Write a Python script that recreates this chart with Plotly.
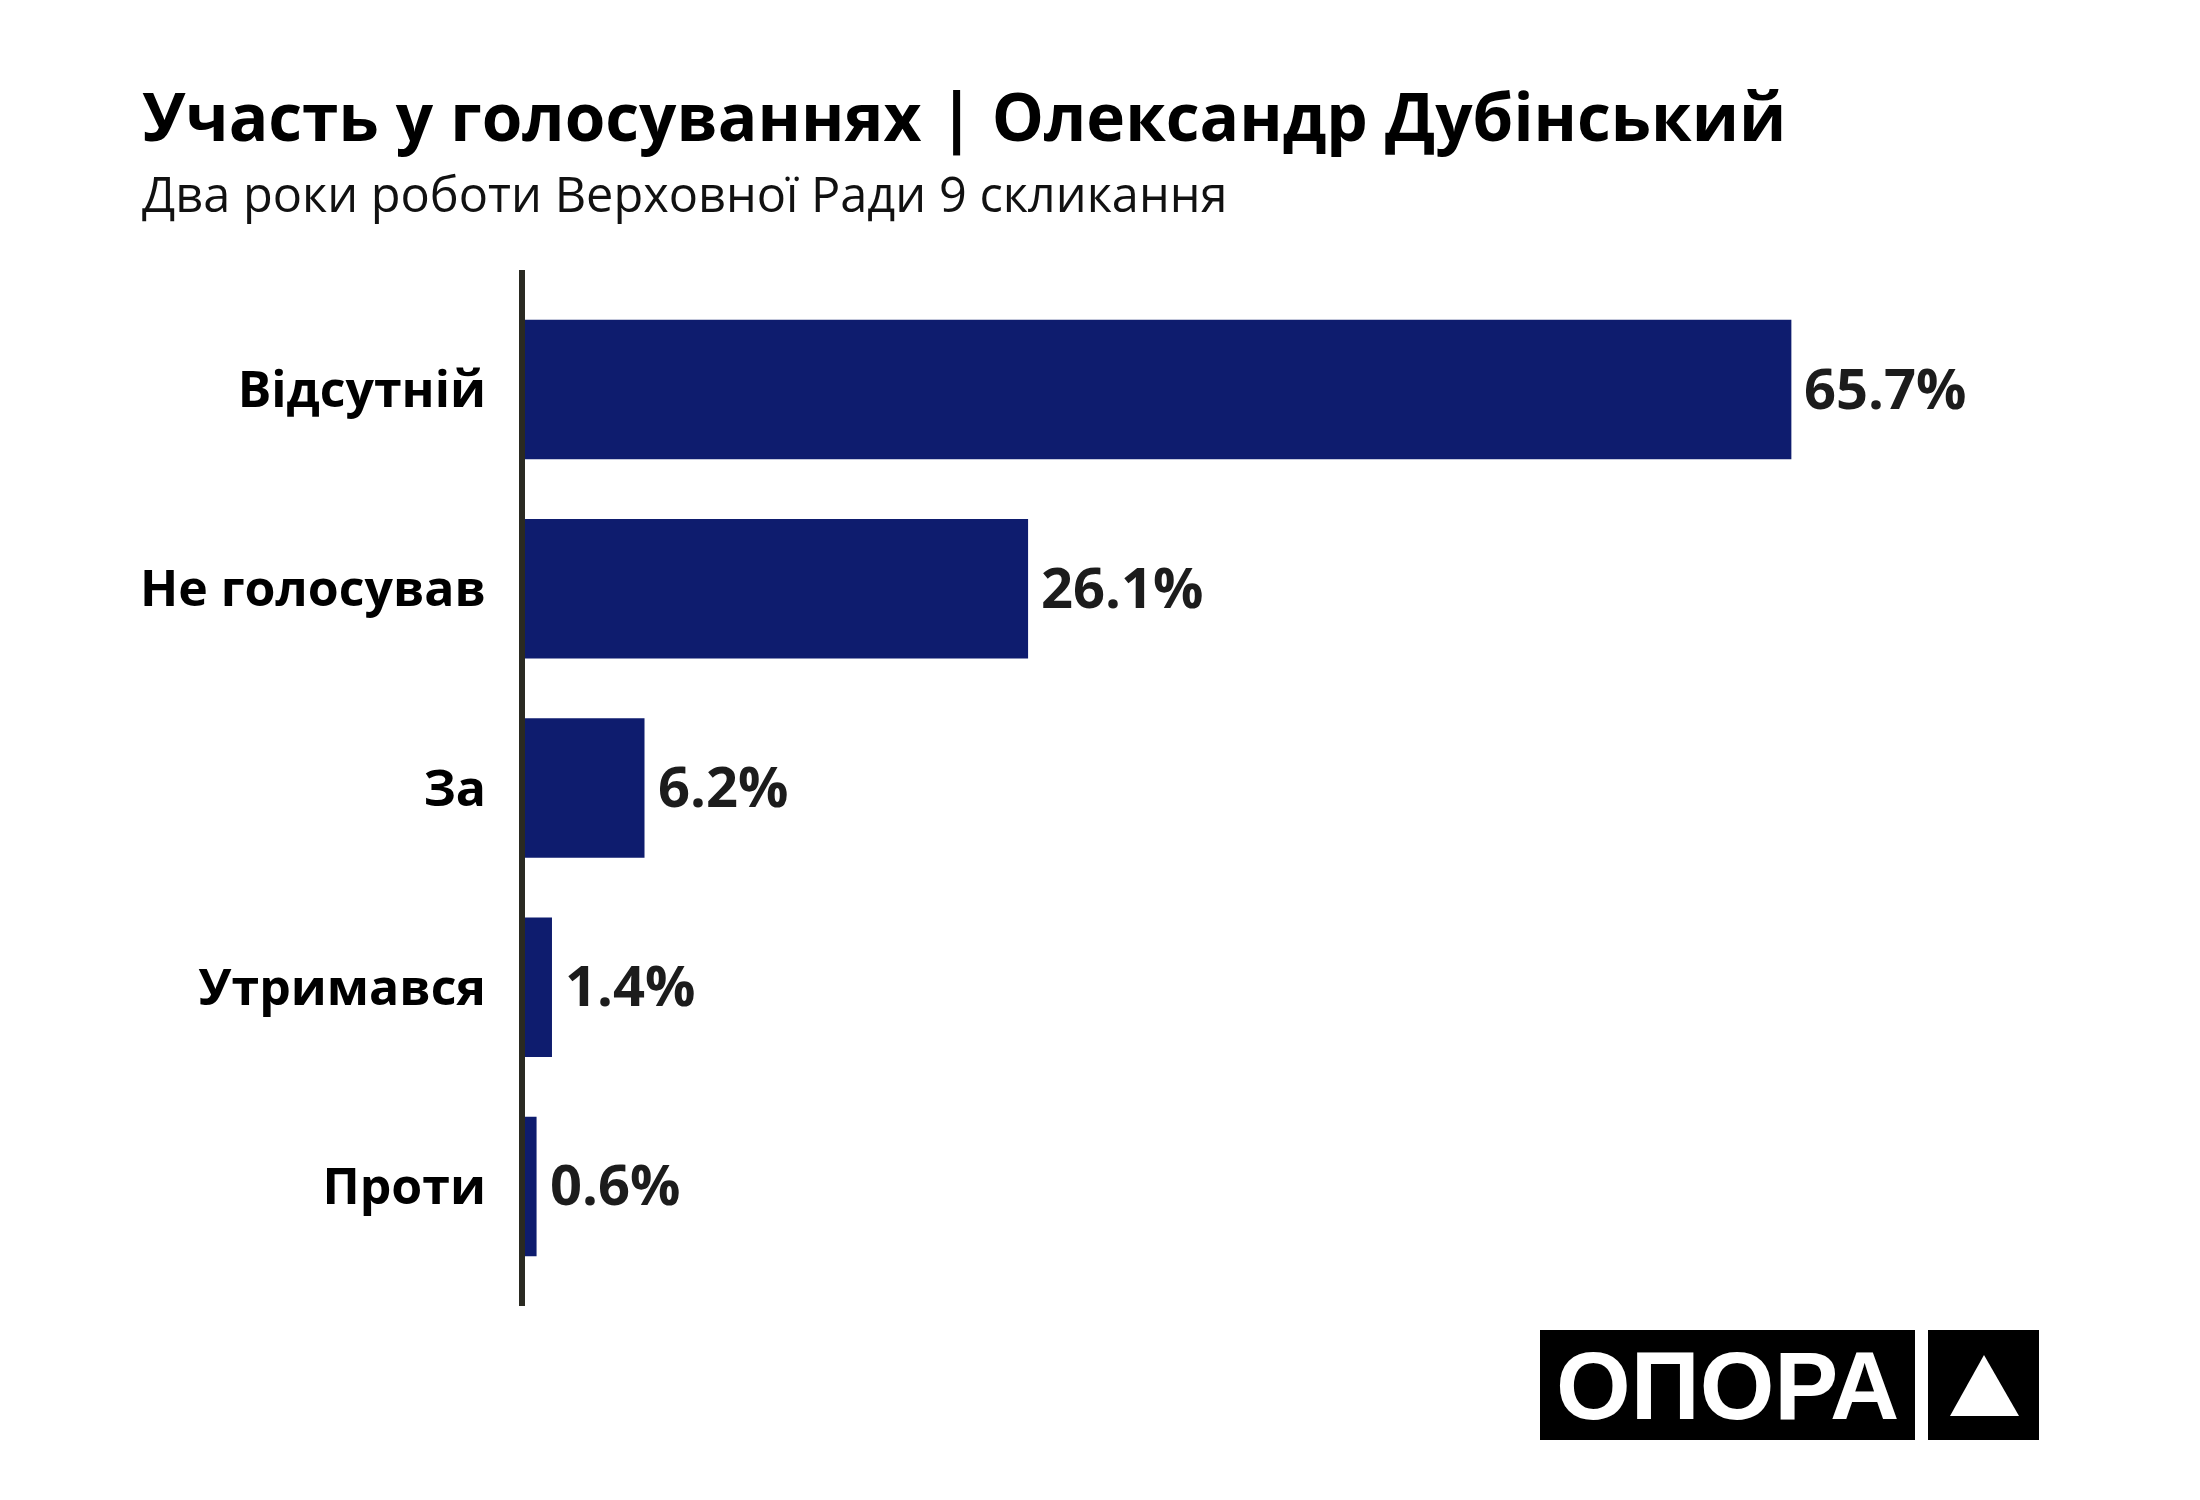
import plotly.graph_objects as go

# data
categories = ['Відсутній', 'Не голосував', 'За', 'Утримався', 'Проти']
shares = [65.7, 26.1, 6.2, 1.4, 0.6]
value_labels = ['65.7%', '26.1%', '6.2%', '1.4%', '0.6%']

title_text = 'Участь у голосуваннях | Олександр Дубінський'
subtitle_text = 'Два роки роботи Верховної Ради 9 скликання'
logo_text = 'ОПОРА'

# canvas / plot area in pixels
W, H = 2200, 1500
L, R, T, B = 517, 141, 262, 202
PW = W - L - R
PH = H - T - B
DX, DY = -8, -9  # correction for the hand-measured positions below

BAR_COLOR = '#0e1c6e'
AXIS_COLOR = '#2a2a22'
FONT = 'Open Sans'


def px(x):
    return (x + DX - L) / PW


def py(y):
    return (H - B - (y + DY)) / PH


def make_chart():
    fig = go.Figure()
    fig.add_trace(go.Bar(
        x=shares, y=categories,
        orientation='h',
        marker=dict(color=BAR_COLOR, line=dict(width=0)),
        hoverinfo='skip'
    ))

    # value labels just right of each bar
    for cat, val, lab in zip(categories, shares, value_labels):
        fig.add_annotation(
            x=val, y=cat, xref='x', yref='y',
            text=lab, showarrow=False,
            xanchor='left', yanchor='middle', xshift=11, yshift=3,
            font=dict(family=FONT, size=56, color='#1c1c1c', weight='bold')
        )

    # title + subtitle
    fig.add_annotation(
        x=px(140), y=py(116), xref='paper', yref='paper',
        text=title_text, showarrow=False,
        xanchor='left', yanchor='middle',
        font=dict(family=FONT, size=65.7, color='#000000', weight='bold')
    )
    fig.add_annotation(
        x=px(140), y=py(194), xref='paper', yref='paper',
        text=subtitle_text, showarrow=False,
        xanchor='left', yanchor='middle',
        font=dict(family=FONT, size=48.7, color='#111111')
    )

    # logo boxes
    fig.add_shape(type='rect', xref='paper', yref='paper',
                  x0=px(1540), x1=px(1915), y0=py(1441), y1=py(1331),
                  fillcolor='black', line=dict(width=0))
    fig.add_shape(type='rect', xref='paper', yref='paper',
                  x0=px(1928), x1=px(2039), y0=py(1441), y1=py(1331),
                  fillcolor='black', line=dict(width=0))
    tri = 'M {},{} L {},{} L {},{} Z'.format(
        px(1950), py(1417), px(2019), py(1417), px(1984), py(1356))
    fig.add_shape(type='path', xref='paper', yref='paper', path=tri,
                  fillcolor='white', line=dict(width=0))
    fig.add_annotation(
        x=px(1727), y=py(1386), xref='paper', yref='paper',
        text=logo_text, showarrow=False,
        xanchor='center', yanchor='middle',
        font=dict(family='Liberation Sans', size=96, color='white', weight='bold')
    )

    fig.update_layout(
        width=W, height=H,
        margin=dict(l=L, r=R, t=T, b=B),
        plot_bgcolor='white', paper_bgcolor='white',
        showlegend=False,
        bargap=0.3,
        xaxis=dict(range=[0, 80], visible=False, fixedrange=True),
        yaxis=dict(
            range=[4.6, -0.6],
            showline=True, linecolor=AXIS_COLOR, linewidth=6,
            showgrid=False, zeroline=False,
            ticks='', ticklabelstandoff=23,
            tickfont=dict(family=FONT, size=50, color='#000000', weight='bold'),
            fixedrange=True
        ),
        font=dict(family=FONT)
    )
    return fig


fig = make_chart()
fig.write_html('out.html')
